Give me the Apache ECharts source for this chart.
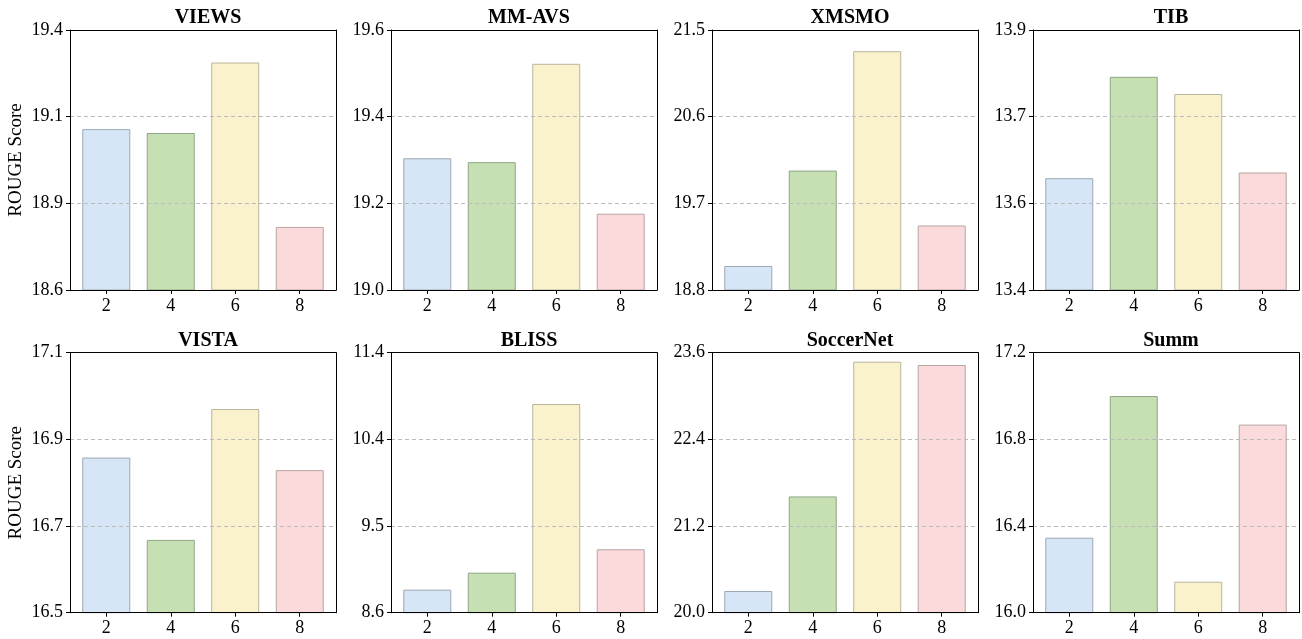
<!DOCTYPE html>
<html>
<head>
<meta charset="utf-8">
<script src="https://cdn.jsdelivr.net/npm/echarts@6/dist/echarts.min.js"></script>
<style>
html,body{margin:0;padding:0;background:#fff;}
#chart{width:1302px;height:639px;}
</style>
</head>
<body>
<div id="chart"></div>
<script>
// ---- data ----
const categories = ['2', '4', '6', '8'];
const titles = ['VIEWS', 'MM-AVS', 'XMSMO', 'TIB', 'VISTA', 'BLISS', 'SoccerNet', 'Summ'];
const viewsValues     = [19.095, 19.083, 19.30, 18.794];
const mmavsValues     = [19.304, 19.295, 19.522, 19.176];
const xmsmoValues     = [19.05, 20.04, 21.28, 19.47];
const tibValues       = [13.615, 13.810, 13.777, 13.626];
const vistaValues     = [16.858, 16.668, 16.970, 16.829];
const blissValues     = [8.848, 9.031, 10.847, 9.283];
const soccernetValues = [20.30, 21.61, 23.475, 23.43];
const summValues      = [16.346, 17.00, 16.143, 16.868];
const yRanges = [[18.6, 19.4], [19.0, 19.6], [18.8, 21.5], [13.4, 13.9],
                 [16.5, 17.1], [8.6, 11.4], [20.0, 23.6], [16.0, 17.2]];
const yTickLabels = [
  ['18.6', '18.9', '19.1', '19.4'],
  ['19.0', '19.2', '19.4', '19.6'],
  ['18.8', '19.7', '20.6', '21.5'],
  ['13.4', '13.6', '13.7', '13.9'],
  ['16.5', '16.7', '16.9', '17.1'],
  ['8.6', '9.5', '10.4', '11.4'],
  ['20.0', '21.2', '22.4', '23.6'],
  ['16.0', '16.4', '16.8', '17.2']
];
const allValues = [viewsValues, mmavsValues, xmsmoValues, tibValues,
                   vistaValues, blissValues, soccernetValues, summValues];
const barColors = ['#d7e6f6', '#c6e0b4', '#faf2cd', '#fadada'];
const barBorders = ['#9ba7b4', '#8fa585', '#b9b59c', '#b9a3a3'];

// ---- layout ----
const lefts = [70, 391, 712, 1033];
const tops = [30, 352.7];
const W = 266, H = 260;
const FONT = '"Liberation Serif", "Times New Roman", serif';

const grids = [], xAxes = [], yAxes = [], series = [], titleArr = [];
for (let i = 0; i < 8; i++) {
  const r = Math.floor(i / 4), c = i % 4;
  const [ymin, ymax] = yRanges[i];
  const ticks = [0, 1, 2, 3].map(k => ymin + (ymax - ymin) * k / 3);
  const labs = yTickLabels[i];
  grids.push({left: lefts[c], top: tops[r], width: W, height: H, show: false});
  titleArr.push({text: titles[i], left: lefts[c] + W / 2, top: tops[r] - 27, textAlign: 'center',
                 textStyle: {fontFamily: FONT, fontWeight: 'bold', fontSize: 20, color: '#000'}});
  // bottom + top (frame) x axes
  xAxes.push({
    type: 'value', gridIndex: i, min: -0.5625, max: 3.5625, position: 'bottom',
    axisLine: {show: true, onZero: false, lineStyle: {color: '#000', width: 1}},
    axisTick: {show: true, length: 4, customValues: [0, 1, 2, 3], lineStyle: {color: '#000'}},
    axisLabel: {customValues: [0, 1, 2, 3], formatter: v => categories[Math.round(v)],
                fontFamily: FONT, fontSize: 18, color: '#000', margin: 7},
    splitLine: {show: false}, z: 5
  });
  yAxes.push({
    type: 'value', gridIndex: i, min: ymin, max: ymax, position: 'left',
    name: c === 0 ? 'ROUGE Score' : '', nameLocation: 'middle', nameGap: 44,
    nameTextStyle: {fontFamily: FONT, fontSize: 19, color: '#000'},
    axisLine: {show: true, onZero: false, lineStyle: {color: '#000', width: 1}},
    axisTick: {show: true, length: 4, customValues: ticks, lineStyle: {color: '#000'}},
    axisLabel: {customValues: ticks,
                formatter: v => { let best = 0, bd = 1e9; ticks.forEach((t, k) => { const d = Math.abs(t - v); if (d < bd) { bd = d; best = k; } }); return labs[best]; },
                fontFamily: FONT, fontSize: 18, color: '#000', margin: 7},
    splitLine: {show: true, showMinLine: false, showMaxLine: false,
                lineStyle: {color: '#bbbbbb', type: [4, 3], width: 1}}, z: 5
  });
  series.push({
    type: 'bar', xAxisIndex: i, yAxisIndex: i, barWidth: 48, clip: true,
    data: allValues[i].map((v, k) => ({
      value: [k, v],
      itemStyle: {color: barColors[k], borderColor: barBorders[k], borderWidth: 1}
    }))
  });
}
// frame: top and right axis lines
for (let i = 0; i < 8; i++) {
  const [ymin, ymax] = yRanges[i];
  xAxes.push({type: 'value', gridIndex: i, min: -0.5625, max: 3.5625, position: 'top',
    axisLine: {show: true, onZero: false, lineStyle: {color: '#000', width: 1}},
    axisTick: {show: false}, axisLabel: {show: false}, splitLine: {show: false}, z: 5});
  yAxes.push({type: 'value', gridIndex: i, min: ymin, max: ymax, position: 'right',
    axisLine: {show: true, onZero: false, lineStyle: {color: '#000', width: 1}},
    axisTick: {show: false}, axisLabel: {show: false}, splitLine: {show: false}, z: 5});
}

const chart = echarts.init(document.getElementById('chart'), null, {renderer: 'canvas'});
chart.setOption({
  animation: false,
  backgroundColor: '#fff',
  title: titleArr,
  grid: grids,
  xAxis: xAxes,
  yAxis: yAxes,
  series: series
});
</script>
</body>
</html>
